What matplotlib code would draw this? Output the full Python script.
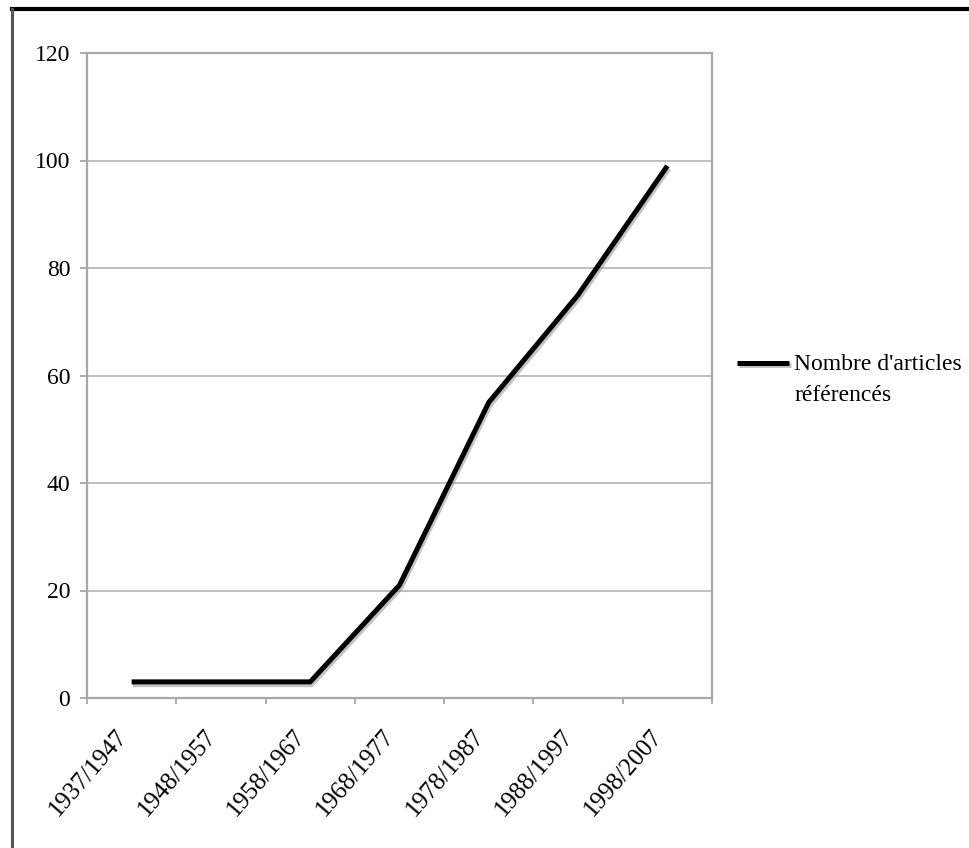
import numpy as np
import matplotlib
matplotlib.use('Agg')
import matplotlib.pyplot as plt
import matplotlib.patheffects as pe
import matplotlib.transforms as mtransforms
from matplotlib.lines import Line2D

# decades and number of referenced articles
periodes = ["1937/1947", "1948/1957", "1958/1967", "1968/1977",
            "1978/1987", "1988/1997", "1998/2007"]
nb_articles = [3, 3, 3, 21, 55, 75, 99]
y_ticks = [0, 20, 40, 60, 80, 100, 120]

plt.rc('font', family='Liberation Serif')

fig = plt.figure(figsize=(9.69, 8.48), dpi=100)
ax = fig.add_axes([87/969, 1-698/848, (712-87)/969, (698-53)/848])

x = np.arange(len(periodes))
ax.plot(x, nb_articles, color='black', lw=3.6, solid_joinstyle='round',
        solid_capstyle='butt', label="Nombre d'articles\nréférencés",
        path_effects=[pe.SimpleLineShadow(offset=(1, -2), shadow_color='#888888', alpha=0.5),
                      pe.Normal()])

ax.set_xlim(-0.5, len(periodes) - 0.5)
ax.set_ylim(0, 120)
ax.set_yticks(y_ticks)
ax.yaxis.grid(True, color='#b4b4b4', lw=1.2)
ax.set_axisbelow(True)

ax.set_xticks(x)
ax.set_xticklabels(periodes, rotation=49, ha='right', rotation_mode='anchor', fontsize=18)
ax.set_xticks(np.arange(-0.5, len(periodes)), minor=True)
ax.tick_params(axis='x', which='major', length=0, pad=20)
ax.tick_params(axis='x', which='minor', length=4, width=1.2, color='#a0a0a0', direction='out')
ax.tick_params(axis='y', length=5, width=1.2, color='#a0a0a0', labelsize=17, pad=7)

# labels end a little left of the category centre
shift = mtransforms.ScaledTranslation(-17/100, 0, fig.dpi_scale_trans)
for tick in ax.xaxis.get_major_ticks():
    tick.label1.set_transform(tick.label1.get_transform() + shift)

for s in ax.spines.values():
    s.set_color('#a8a8a8')
    s.set_linewidth(1.6)

leg = fig.legend(loc='upper left', bbox_to_anchor=(728/969, 1-345/848), frameon=False,
                 fontsize=17, handlelength=2.2, handletextpad=0.2, borderaxespad=0)
for t in leg.get_texts():
    t.set_linespacing(1.6)
# handle next to the first line of the label
for col in leg._legend_handle_box.get_children():
    for item in col.get_children():
        item.align = 'top'

# frame of the picture
fig.add_artist(Line2D([12/969, 1], [1-9/848, 1-9/848], color='black', lw=3.0, transform=fig.transFigure))
fig.add_artist(Line2D([12/969, 12/969], [0, 1-9/848], color='#555555', lw=2.2, transform=fig.transFigure))

fig.savefig("out.png", dpi=100)
